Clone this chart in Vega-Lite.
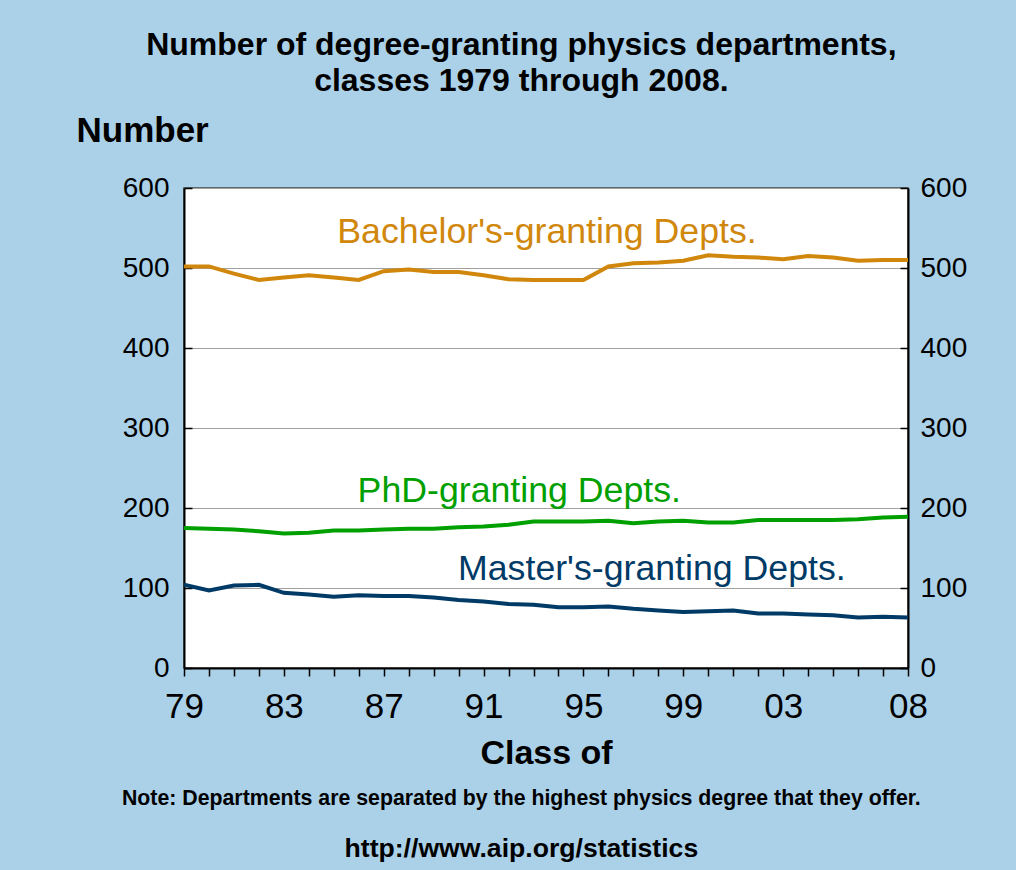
{
  "$schema": "https://vega.github.io/schema/vega-lite/v6.json",
  "background": "#abd1e8",
  "padding": {"left": 75, "top": 29, "right": 51, "bottom": 8},
  "title": {
    "text": ["Number of degree-granting physics departments,", "classes 1979 through 2008."],
    "font": "Liberation Sans",
    "fontSize": 32,
    "fontWeight": "bold",
    "color": "#000000",
    "anchor": "middle",
    "frame": "bounds",
    "lineHeight": 36,
    "offset": 14
  },
  "datasets": {
    "depts": [
      {"year": 1979, "Bachelor": 502, "PhD": 175, "Master": 104},
      {"year": 1980, "Bachelor": 502, "PhD": 174, "Master": 97},
      {"year": 1981, "Bachelor": 493, "PhD": 173, "Master": 103},
      {"year": 1982, "Bachelor": 485, "PhD": 171, "Master": 104},
      {"year": 1983, "Bachelor": 488, "PhD": 168, "Master": 94},
      {"year": 1984, "Bachelor": 491, "PhD": 169, "Master": 92},
      {"year": 1985, "Bachelor": 488, "PhD": 172, "Master": 89},
      {"year": 1986, "Bachelor": 485, "PhD": 172, "Master": 91},
      {"year": 1987, "Bachelor": 496, "PhD": 173, "Master": 90},
      {"year": 1988, "Bachelor": 498, "PhD": 174, "Master": 90},
      {"year": 1989, "Bachelor": 495, "PhD": 174, "Master": 88},
      {"year": 1990, "Bachelor": 495, "PhD": 176, "Master": 85},
      {"year": 1991, "Bachelor": 491, "PhD": 177, "Master": 83},
      {"year": 1992, "Bachelor": 486, "PhD": 179, "Master": 80},
      {"year": 1993, "Bachelor": 485, "PhD": 183, "Master": 79},
      {"year": 1994, "Bachelor": 485, "PhD": 183, "Master": 76},
      {"year": 1995, "Bachelor": 485, "PhD": 183, "Master": 76},
      {"year": 1996, "Bachelor": 502, "PhD": 184, "Master": 77},
      {"year": 1997, "Bachelor": 506, "PhD": 181, "Master": 74},
      {"year": 1998, "Bachelor": 507, "PhD": 183, "Master": 72},
      {"year": 1999, "Bachelor": 509, "PhD": 184, "Master": 70},
      {"year": 2000, "Bachelor": 516, "PhD": 182, "Master": 71},
      {"year": 2001, "Bachelor": 514, "PhD": 182, "Master": 72},
      {"year": 2002, "Bachelor": 513, "PhD": 185, "Master": 68},
      {"year": 2003, "Bachelor": 511, "PhD": 185, "Master": 68},
      {"year": 2004, "Bachelor": 515, "PhD": 185, "Master": 67},
      {"year": 2005, "Bachelor": 513, "PhD": 185, "Master": 66},
      {"year": 2006, "Bachelor": 509, "PhD": 186, "Master": 63},
      {"year": 2007, "Bachelor": 510, "PhD": 188, "Master": 64},
      {"year": 2008, "Bachelor": 510, "PhD": 189, "Master": 63}
    ],
    "labels": [
      {"series": "Bachelor", "label": "Bachelor's-granting Depts.", "year": 1993.54, "value": 545},
      {"series": "PhD", "label": "PhD-granting Depts.", "year": 1992.43, "value": 221},
      {"series": "Master", "label": "Master's-granting Depts.", "year": 1997.74, "value": 124}
    ]
  },
  "vconcat": [
    {
      "width": 724,
      "height": 480,
      "title": {
        "text": "Note: Departments are separated by the highest physics degree that they offer.",
        "subtitle": "http://www.aip.org/statistics",
        "orient": "bottom",
        "anchor": "middle",
        "frame": "bounds",
        "font": "Liberation Sans",
        "fontSize": 21.3,
        "fontWeight": "bold",
        "color": "#000000",
        "subtitleFont": "Liberation Sans",
        "subtitleFontSize": 26.6,
        "subtitleFontWeight": "bold",
        "subtitleColor": "#000000",
        "subtitlePadding": 27,
        "offset": 18
      },
      "layer": [
        {
          "data": {"name": "depts"},
          "transform": [{"fold": ["Bachelor", "PhD", "Master"], "as": ["series", "value"]}],
          "mark": {"type": "line", "strokeWidth": 4, "clip": true},
          "encoding": {
            "x": {
              "field": "year",
              "type": "quantitative",
              "scale": {"domain": [1979, 2008], "nice": false, "zero": false},
              "axis": {
                "orient": "bottom",
                "title": "Class of",
                "titleFont": "Liberation Sans",
                "titleFontSize": 34,
                "titleFontWeight": "bold",
                "titleColor": "#000000",
                "titlePadding": 12,
                "values": [1979,1980,1981,1982,1983,1984,1985,1986,1987,1988,1989,1990,1991,1992,1993,1994,1995,1996,1997,1998,1999,2000,2001,2002,2003,2004,2005,2006,2007,2008],
                "tickCount": 60,
                "format": "d",
                "labelExpr": "(datum.value == 2008 || ((datum.value - 1979) % 4 == 0 && datum.value < 2007)) ? slice(datum.label, 2) : ''",
                "labelFont": "Liberation Sans",
                "labelFontSize": 35,
                "labelColor": "#000000",
                "labelPadding": 13,
                "labelOverlap": false,
                "labelFlush": false,
                "labelBound": false,
                "tickSize": 8,
                "tickColor": "#000000",
                "tickWidth": 1.5,
                "domain": true,
                "domainColor": "#000000",
                "domainWidth": 2,
                "grid": false
              }
            },
            "y": {
              "field": "value",
              "type": "quantitative",
              "scale": {"domain": [0, 600], "nice": false},
              "axis": {
                "orient": "left",
                "title": "Number",
                "titleAngle": 0,
                "titleAlign": "left",
                "titleBaseline": "alphabetic",
                "titleX": -108,
                "titleY": -47,
                "titleFont": "Liberation Sans",
                "titleFontSize": 35,
                "titleFontWeight": "bold",
                "titleColor": "#000000",
                "values": [0, 100, 200, 300, 400, 500, 600],
                "labelFont": "Liberation Sans",
                "labelFontSize": 28,
                "labelColor": "#000000",
                "labelPadding": 23,
                "tickSize": -8,
                "tickColor": "#000000",
                "tickWidth": 1.5,
                "domain": true,
                "domainColor": "#000000",
                "domainWidth": 2,
                "grid": true,
                "gridColor": "#a0a0a0",
                "gridWidth": 1.2
              }
            },
            "color": {
              "field": "series",
              "type": "nominal",
              "scale": {"domain": ["Bachelor", "PhD", "Master"], "range": ["#d0870c", "#00a000", "#003a66"]},
              "legend": null
            }
          }
        },
        {
          "data": {"name": "labels"},
          "mark": {"type": "text", "font": "Liberation Sans", "fontSize": 35.7, "align": "center", "baseline": "middle"},
          "encoding": {
            "x": {"field": "year", "type": "quantitative", "axis": {"labelOverlap": false, "tickCount": 60}},
            "y": {
              "field": "value",
              "type": "quantitative",
              "axis": {
                "orient": "right",
                "title": null,
                "values": [0, 100, 200, 300, 400, 500, 600],
                "labelFont": "Liberation Sans",
                "labelFontSize": 28,
                "labelColor": "#000000",
                "labelPadding": 20,
                "labelOverlap": false,
                "tickSize": -8,
                "tickColor": "#000000",
                "tickWidth": 1.5,
                "domain": true,
                "domainColor": "#000000",
                "domainWidth": 2,
                "grid": false
              }
            },
            "text": {"field": "label"},
            "color": {"field": "series", "type": "nominal", "legend": null}
          }
        }
      ],
      "resolve": {"axis": {"y": "independent"}}
    }
  ],
  "config": {
    "axis": {"labelOverlap": false},
    "view": {"fill": "#ffffff", "stroke": "#444444", "strokeWidth": 1.5}
  }
}
